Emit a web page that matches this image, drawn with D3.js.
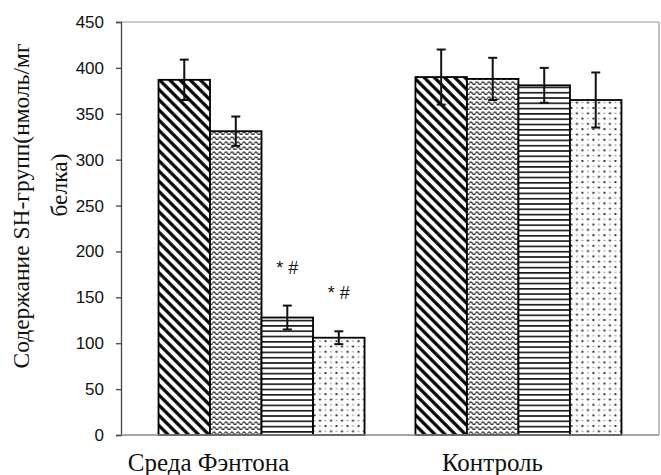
<!DOCTYPE html>
<html><head><meta charset="utf-8">
<script src="https://cdn.jsdelivr.net/npm/d3@7"></script>
<style>html,body{margin:0;padding:0;background:#fff;}svg{display:block;}</style>
</head><body><div id="chart"></div>
<script>
const groups = ["Среда Фэнтона", "Контроль"];
const seriesKeys = ["s1", "s2", "s3", "s4"];
const meansFenton = [387, 331, 128, 106];
const meansControl = [390, 388, 381, 365];
const errFenton = [22, 16, 13, 7];
const errControl = [30, 23, 19, 30];
const notesFenton = ["", "", "* #", "* #"];
const notesControl = ["", "", "", ""];
const yTicks = [0, 50, 100, 150, 200, 250, 300, 350, 400, 450];
const yTitleLines = ["Содержание SH-групп(нмоль/мг", "белка)"];

const W = 661, H = 475;
const plot = {left: 121, right: 659, top: 22, bottom: 435};

const data = [
  {group: groups[0], means: meansFenton, errs: errFenton, notes: notesFenton},
  {group: groups[1], means: meansControl, errs: errControl, notes: notesControl}
];

const svg = d3.select("#chart").append("svg").attr("width", W).attr("height", H);
const defs = svg.append("defs");

// patterns
const p1 = defs.append("pattern").attr("id", "pat0").attr("patternUnits", "userSpaceOnUse")
  .attr("width", 7.2).attr("height", 7.2).attr("patternTransform", "rotate(-45)");
p1.append("rect").attr("width", 7.2).attr("height", 7.2).attr("fill", "#fff");
p1.append("line").attr("x1", 1.8).attr("x2", 1.8).attr("y1", -1).attr("y2", 9).attr("stroke", "#000").attr("stroke-width", 3.2);

const p2 = defs.append("pattern").attr("id", "pat1").attr("patternUnits", "userSpaceOnUse")
  .attr("width", 6).attr("height", 5);
p2.append("rect").attr("width", 6).attr("height", 5).attr("fill", "#fff");
p2.append("path").attr("d", "M0 3.2 Q1.5 0.4 3 3.2 T6 3.2").attr("fill", "none").attr("stroke", "#222").attr("stroke-width", 1.3);

const p3 = defs.append("pattern").attr("id", "pat2").attr("patternUnits", "userSpaceOnUse")
  .attr("width", 10).attr("height", 5.3);
p3.append("rect").attr("width", 10).attr("height", 5.3).attr("fill", "#fff");
p3.append("line").attr("x1", 0).attr("x2", 10).attr("y1", 2.6).attr("y2", 2.6).attr("stroke", "#111").attr("stroke-width", 1.6);

const p4 = defs.append("pattern").attr("id", "pat3").attr("patternUnits", "userSpaceOnUse")
  .attr("width", 11).attr("height", 10.6);
p4.append("rect").attr("width", 11).attr("height", 10.6).attr("fill", "#fff");
[[2, 2, 1.1, "#111"], [7.5, 7.3, 1.1, "#111"], [7.5, 2, 0.75, "#666"], [2, 7.3, 0.75, "#666"]].forEach(d => {
  p4.append("circle").attr("cx", d[0]).attr("cy", d[1]).attr("r", d[2]).attr("fill", d[3]);
});

const x0 = d3.scaleBand().domain(groups).range([plot.left, plot.right]).paddingInner(0.198).paddingOuter(0.146);
const x1 = d3.scaleBand().domain(seriesKeys).range([0, x0.bandwidth()]).padding(0);
const y = d3.scaleLinear().domain([0, 450]).range([plot.bottom, plot.top]);

// frame (top & right)
svg.append("line").attr("x1", plot.left).attr("x2", plot.right).attr("y1", plot.top).attr("y2", plot.top)
  .attr("stroke", "#999").attr("stroke-width", 1.2);
svg.append("line").attr("x1", plot.right).attr("x2", plot.right).attr("y1", plot.top).attr("y2", plot.bottom)
  .attr("stroke", "#999").attr("stroke-width", 1.2);

// bars
const g = svg.selectAll("g.grp").data(data).enter().append("g").attr("class", "grp")
  .attr("transform", d => `translate(${x0(d.group)},0)`);

g.selectAll("rect").data(d => d.means.map((v, i) => ({v, i}))).enter().append("rect")
  .attr("x", d => x1(seriesKeys[d.i]))
  .attr("y", d => y(d.v))
  .attr("width", x1.bandwidth())
  .attr("height", d => y(0) - y(d.v))
  .attr("fill", d => `url(#pat${d.i})`)
  .attr("stroke", "#000").attr("stroke-width", 1.8);

// error bars
const eb = g.selectAll("g.eb").data(d => d.means.map((v, i) => ({v, e: d.errs[i], i}))).enter().append("g").attr("class", "eb");
eb.append("line")
  .attr("x1", d => x1(seriesKeys[d.i]) + x1.bandwidth() / 2)
  .attr("x2", d => x1(seriesKeys[d.i]) + x1.bandwidth() / 2)
  .attr("y1", d => y(d.v + d.e)).attr("y2", d => y(d.v - d.e))
  .attr("stroke", "#111").attr("stroke-width", 2);
[1, -1].forEach(s => {
  eb.append("line")
    .attr("x1", d => x1(seriesKeys[d.i]) + x1.bandwidth() / 2 - 4.5)
    .attr("x2", d => x1(seriesKeys[d.i]) + x1.bandwidth() / 2 + 4.5)
    .attr("y1", d => y(d.v + s * d.e)).attr("y2", d => y(d.v + s * d.e))
    .attr("stroke", "#111").attr("stroke-width", 2);
});

// annotations
g.selectAll("text.note").data(d => d.means.map((v, i) => ({v, e: d.errs[i], n: d.notes[i], i})).filter(d => d.n)).enter()
  .append("text").attr("class", "note")
  .attr("x", d => x1(seriesKeys[d.i]) + x1.bandwidth() / 2)
  .attr("y", d => y(d.v + d.e) - 32)
  .attr("text-anchor", "middle")
  .attr("font-family", "Liberation Sans, Arial, sans-serif").attr("font-size", 18)
  .attr("fill", "#111")
  .text(d => d.n);

// y axis
const yAxis = svg.append("g").attr("transform", `translate(${plot.left},0)`)
  .call(d3.axisLeft(y).tickValues(yTicks).tickSize(5).tickPadding(12));
yAxis.select(".domain").attr("stroke", "#444").attr("stroke-width", 1.3);
yAxis.selectAll(".tick line").attr("stroke", "#444").attr("stroke-width", 1.3);
yAxis.selectAll("text").attr("font-family", "Liberation Sans, Arial, sans-serif").attr("font-size", 17).attr("fill", "#111");

// x axis baseline
svg.append("line").attr("x1", plot.left).attr("x2", plot.right).attr("y1", plot.bottom).attr("y2", plot.bottom)
  .attr("stroke", "#888").attr("stroke-width", 1.5);

// x labels
const labelShift = [-53, -26];
svg.selectAll("text.xl").data(groups).enter().append("text").attr("class", "xl")
  .attr("x", (d, i) => x0(d) + x0.bandwidth() / 2 + labelShift[i])
  .attr("y", 471)
  .attr("text-anchor", "middle")
  .attr("font-family", "Liberation Serif, Times New Roman, serif").attr("font-size", 25)
  .attr("fill", "#111")
  .text(d => d);

// y title
const titlePos = [[29, 206], [67, 185]];
yTitleLines.forEach((t, i) => {
  svg.append("text")
    .attr("transform", `translate(${titlePos[i][0]},${titlePos[i][1]}) rotate(-90)`)
    .attr("text-anchor", "middle")
    .attr("font-family", "Liberation Serif, Times New Roman, serif").attr("font-size", 23.5)
    .attr("fill", "#111")
    .text(t);
});
</script>
</body></html>
